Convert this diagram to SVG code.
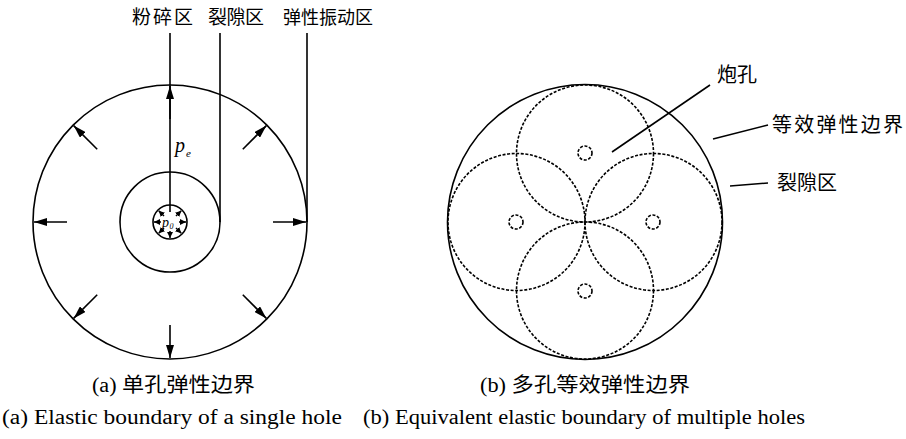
<svg xmlns="http://www.w3.org/2000/svg" width="906" height="439" viewBox="0 0 906 439">
<style>
.ln{stroke:#000;stroke-width:1.6;fill:none}
.arr{stroke:#000;stroke-width:1.6;fill:none;marker-end:url(#ah)}
.sarr{stroke:#000;stroke-width:1.5;fill:none;marker-end:url(#sh)}
.dash{stroke:#000;stroke-width:1.6;fill:none;stroke-dasharray:3 1.6}
.cjk{font-family:"Noto Sans CJK SC","Noto Sans",sans-serif;font-size:20px;fill:#000}
.top{font-family:"Noto Sans CJK SC","Noto Sans",sans-serif;font-size:19px;fill:#000}
.cap{font-family:"Liberation Serif","Noto Sans CJK SC",serif;font-size:20px;fill:#000}
.it{font-family:"Liberation Serif",serif;font-style:italic;fill:#000}
</style>
<defs>
<marker id="ah" markerUnits="userSpaceOnUse" markerWidth="13" markerHeight="8" refX="13" refY="4" orient="auto"><path d="M0,0 L13,4 L0,8 z" fill="#000"/></marker>
<marker id="sh" markerUnits="userSpaceOnUse" markerWidth="6" markerHeight="6" refX="6" refY="3" orient="auto"><path d="M0,0 L6,3 L0,6 z" fill="#000"/></marker>
</defs>
<rect width="906" height="439" fill="#fff"/>

<g id="single-hole">
<circle class="ln" cx="170" cy="222" r="137"/>
<circle class="ln" cx="170" cy="222" r="50"/>
<circle class="ln" cx="170" cy="222" r="17"/>
</g>

<g id="connectors">
<line class="ln" x1="170" y1="33" x2="170" y2="212"/>
<line class="ln" x1="220" y1="33" x2="220" y2="222"/>
<line class="ln" x1="307" y1="33" x2="307" y2="222"/>
<line class="arr" x1="273" y1="222" x2="306" y2="222"/>
<line class="arr" x1="242.8" y1="294.8" x2="266.4" y2="318.4"/>
<line class="arr" x1="170" y1="325" x2="170" y2="358"/>
<line class="arr" x1="97.2" y1="294.8" x2="73.6" y2="318.4"/>
<line class="arr" x1="67" y1="222" x2="34" y2="222"/>
<line class="arr" x1="97.2" y1="149.2" x2="73.6" y2="125.6"/>
<line class="arr" x1="170" y1="119" x2="170" y2="86"/>
<line class="arr" x1="242.8" y1="149.2" x2="266.4" y2="125.6"/>
<line class="sarr" x1="179" y1="222" x2="186" y2="222"/>
<line class="sarr" x1="176" y1="228" x2="181.3" y2="233.3"/>
<line class="sarr" x1="170" y1="231" x2="170" y2="238"/>
<line class="sarr" x1="164" y1="228" x2="158.7" y2="233.3"/>
<line class="sarr" x1="161" y1="222" x2="154" y2="222"/>
<line class="sarr" x1="164" y1="216" x2="158.7" y2="210.7"/>
<line class="sarr" x1="176" y1="216" x2="181.3" y2="210.7"/>
<line class="ln" x1="612" y1="152" x2="710" y2="85"/>
<line class="ln" x1="713" y1="139" x2="768" y2="125"/>
<line class="ln" x1="730" y1="186" x2="768" y2="183"/>
</g>

<g id="labels-a">
<text class="top" x="132" y="24" textLength="61">粉碎区</text>
<text class="top" x="208" y="24" textLength="56">裂隙区</text>
<text class="top" x="283" y="24" font-size="18" style="font-size:18px">弹性振动区</text>
<text class="it" x="175" y="152" font-size="20">p</text>
<text class="it" x="186" y="157" font-size="11">e</text>
<text class="it" x="162" y="227" font-size="14">p</text>
<text class="it" x="169.5" y="229" font-size="8">0</text>
</g>

<g id="multi-hole">
<circle class="ln" cx="585" cy="222" r="137.5"/>
<circle class="dash" cx="585" cy="153.5" r="68.5"/>
<circle class="dash" cx="585" cy="290.5" r="68.5"/>
<circle class="dash" cx="516.5" cy="222" r="68.5"/>
<circle class="dash" cx="653.5" cy="222" r="68.5"/>
<circle class="dash" cx="585" cy="153" r="7"/>
<circle class="dash" cx="585" cy="291" r="7"/>
<circle class="dash" cx="516" cy="222" r="7"/>
<circle class="dash" cx="653" cy="222" r="7"/>
</g>

<g id="labels-b">
<text class="cjk" x="717" y="82">炮孔</text>
<text class="cjk" x="772" y="132" textLength="131">等效弹性边界</text>
<text class="cjk" x="777" y="190">裂隙区</text>
</g>

<g id="captions">
<text class="cap" x="92" y="392" textLength="163" lengthAdjust="spacingAndGlyphs">(a) 单孔弹性边界</text>
<text class="cap" x="480" y="392" textLength="210" lengthAdjust="spacingAndGlyphs">(b) 多孔等效弹性边界</text>
<text class="cap" x="2" y="424" textLength="340" lengthAdjust="spacingAndGlyphs">(a) Elastic boundary of a single hole</text>
<text class="cap" x="363" y="424" textLength="442" lengthAdjust="spacingAndGlyphs">(b) Equivalent elastic boundary of multiple holes</text>
</g>
</svg>
